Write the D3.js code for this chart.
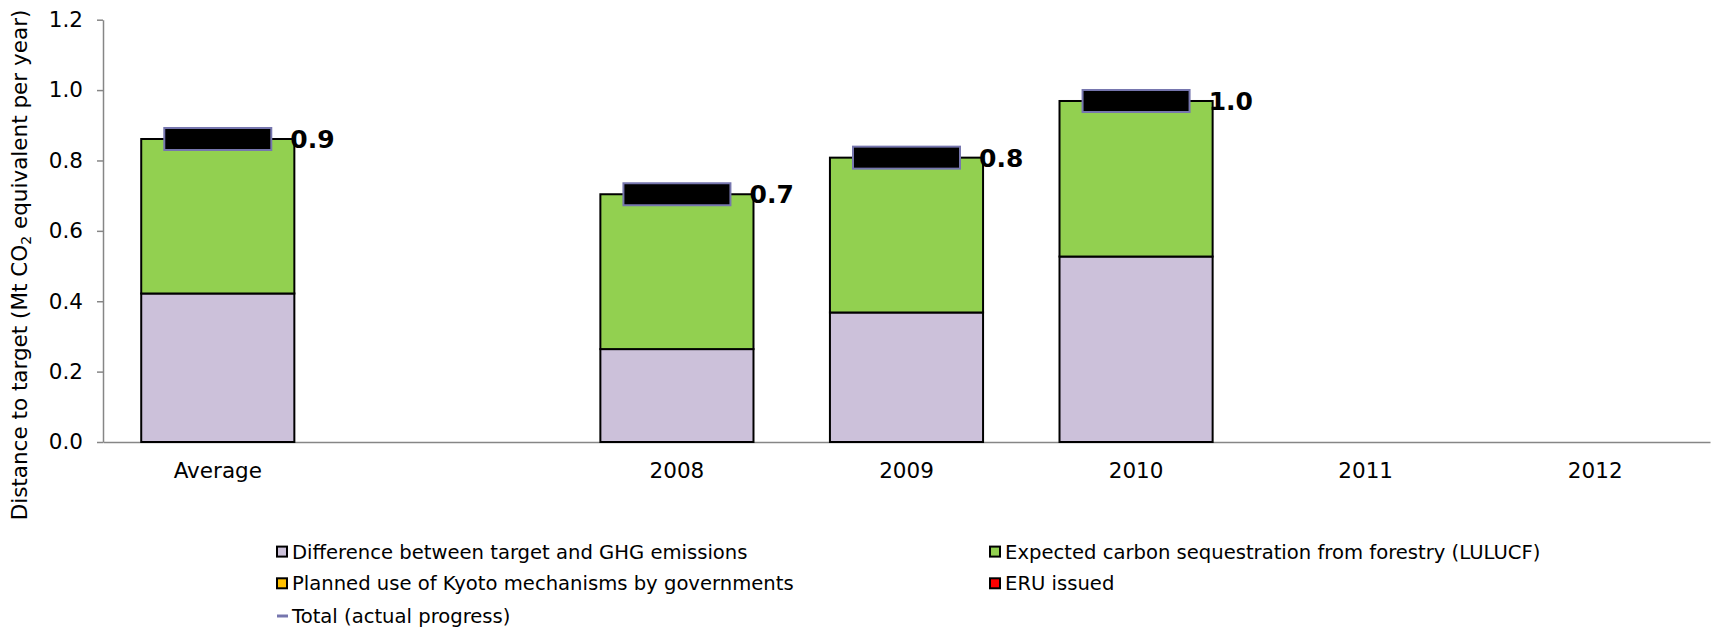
<!DOCTYPE html>
<html><head><meta charset="utf-8">
<script src="https://cdn.jsdelivr.net/npm/d3@7"></script>
<style>
html,body{margin:0;padding:0;background:#fff;}
text{font-family:"DejaVu Sans",Verdana,sans-serif;}
</style></head>
<body><svg id="c" width="1716" height="628"></svg>
<script>
const categories = ["Average", "", "2008", "2009", "2010", "2011", "2012"];
const diffTargetGHG = [0.422, 0, 0.264, 0.368, 0.527, 0, 0];
const lulucf = [0.439, 0, 0.440, 0.440, 0.442, 0, 0];
const kyotoMech = [0, 0, 0, 0, 0, 0, 0];
const eruIssued = [0, 0, 0, 0, 0, 0, 0];
const totalProgress = [0.861, null, 0.704, 0.808, 0.969, null, null];
const yTicks = [0, 0.2, 0.4, 0.6, 0.8, 1.0, 1.2];
const seriesNames = ["Difference between target and GHG emissions", "Expected carbon sequestration from forestry (LULUCF)", "Planned use of Kyoto mechanisms by governments", "ERU issued"];
const seriesColors = ["#CCC1DA", "#92D050", "#FFC000", "#FF0000"];
const totalName = "Total (actual progress)";

const svg = d3.select("#c");
const x = d3.scaleBand().domain(categories.map((c,i)=>i)).range([103, 1710]).paddingInner(0.333).paddingOuter(0.1665);
const y = d3.scaleLinear().domain([0, 1.2]).range([442, 19.7]);

// y axis
const yAx = svg.append("g").attr("transform","translate(103,0)")
  .call(d3.axisLeft(y).tickValues(yTicks).tickFormat(d3.format(".1f")).tickSize(6).tickSizeOuter(0).tickPadding(14));
yAx.select(".domain").attr("stroke","#868686").attr("stroke-width",1.5);
yAx.selectAll(".tick line").attr("stroke","#868686").attr("stroke-width",1.5);
yAx.selectAll(".tick text").attr("font-size",21.5).attr("fill","#000").style("font-family","'DejaVu Sans',Verdana,sans-serif");

// x axis
const xAx = svg.append("g").attr("transform","translate(0,442)")
  .call(d3.axisBottom(x).tickFormat(i=>categories[i]).tickSize(0).tickSizeOuter(0).tickPadding(21));
xAx.select(".domain").attr("stroke","#868686").attr("stroke-width",1.5);
xAx.selectAll(".tick text").attr("font-size",21.5).attr("fill","#000").style("font-family","'DejaVu Sans',Verdana,sans-serif");

// stacked bars
const rows = categories.map((c,i)=>({i, s0:diffTargetGHG[i], s1:lulucf[i], s2:kyotoMech[i], s3:eruIssued[i]}));
const stack = d3.stack().keys(["s0","s1","s2","s3"])(rows);
stack.forEach((layer,k)=>{
  svg.append("g").selectAll("rect").data(layer.filter(d=>d[1]-d[0]>0)).join("rect")
    .attr("x", d=>x(d.data.i)).attr("width", x.bandwidth())
    .attr("y", d=>y(d[1])).attr("height", d=>y(d[0])-y(d[1]))
    .attr("fill", seriesColors[k]).attr("stroke","#000").attr("stroke-width",2);
});

// total markers
const tot = totalProgress.map((v,i)=>({i,v})).filter(d=>d.v!=null);
const mw = 107, mh = 22;
svg.append("g").selectAll("rect").data(tot).join("rect")
  .attr("x", d=>x(d.i)+x.bandwidth()/2-mw/2).attr("y", d=>y(d.v)-mh/2)
  .attr("width", mw).attr("height", mh)
  .attr("fill","#000").attr("stroke","#7676AE").attr("stroke-width",2);
svg.append("g").selectAll("text").data(tot).join("text")
  .attr("x", d=>x(d.i)+x.bandwidth()-4).attr("y", d=>y(d.v))
  .attr("dy","0.36em").attr("font-size",25).attr("font-weight","bold").attr("fill","#000")
  .text(d=>d3.format(".1f")(d.v));

// y title
svg.append("text").attr("transform","translate(27,265) rotate(-90)").attr("text-anchor","middle")
  .attr("font-size",21.5).attr("fill","#000")
  .call(t=>{
    t.append("tspan").text("Distance to target (Mt CO");
    t.append("tspan").attr("font-size",14).attr("dy",4).text("2");
    t.append("tspan").attr("dy",-4).text(" equivalent per year)");
  });

// legend
const legItems = [
  {name:seriesNames[0], color:seriesColors[0], x:277, y:551.6},
  {name:seriesNames[1], color:seriesColors[1], x:990, y:551.6},
  {name:seriesNames[2], color:seriesColors[2], x:277, y:583.3},
  {name:seriesNames[3], color:seriesColors[3], x:990, y:583.3}
];
const lg = svg.append("g");
legItems.forEach(d=>{
  lg.append("rect").attr("x",d.x).attr("y",d.y-5).attr("width",10).attr("height",10)
    .attr("fill",d.color).attr("stroke","#000").attr("stroke-width",2);
  lg.append("text").attr("x",d.x+15).attr("y",d.y).attr("dy","0.36em").attr("font-size",19.6).attr("fill","#000").text(d.name);
});
lg.append("line").attr("x1",277).attr("x2",288).attr("y1",616).attr("y2",616).attr("stroke","#7676AE").attr("stroke-width",3);
lg.append("text").attr("x",292).attr("y",616).attr("dy","0.36em").attr("font-size",19.6).attr("fill","#000").text(totalName);
</script>
</body></html>
